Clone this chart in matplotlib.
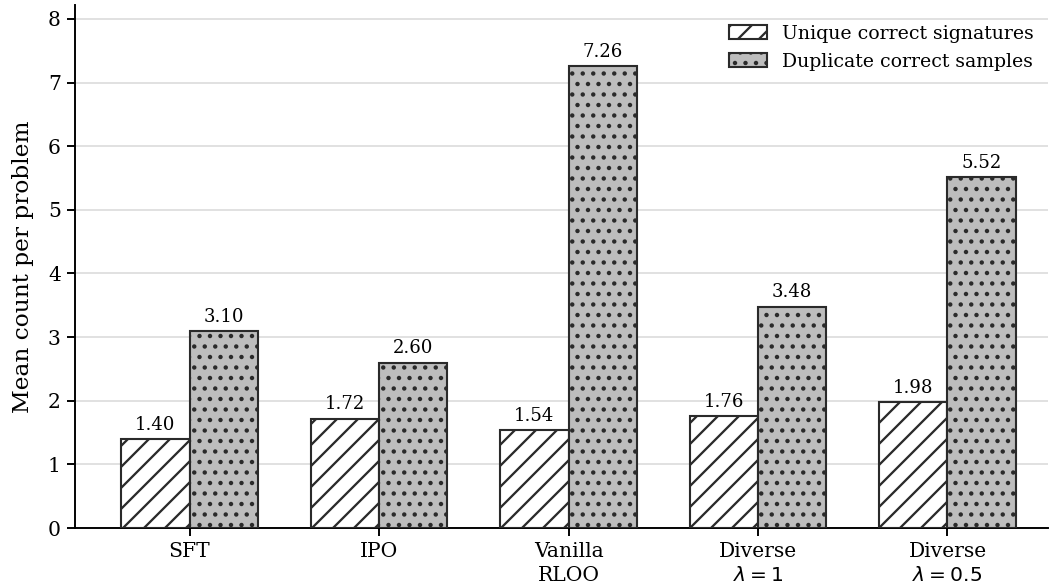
import matplotlib
matplotlib.use('Agg')
import matplotlib.pyplot as plt
import numpy as np

methods = ['SFT', 'IPO', 'Vanilla\nRLOO', 'Diverse\n$\\lambda=1$', 'Diverse\n$\\lambda=0.5$']
unique_sig = [1.40, 1.72, 1.54, 1.76, 1.98]
dup_samples = [3.10, 2.60, 7.26, 3.48, 5.52]

DPI = 126
plt.rcParams['font.family'] = 'DejaVu Serif'
plt.rcParams['hatch.linewidth'] = 1.3
plt.rcParams['hatch.color'] = '#222222'

fig = plt.figure(figsize=(1050 / DPI, 587 / DPI), dpi=DPI)
ax = fig.add_axes([0.0714, 0.1005, 0.9266, 0.891])

x = np.arange(len(methods))
w = 0.36
b1 = ax.bar(x - w/2, unique_sig, w, color='white', edgecolor='#2a2a2a',
            linewidth=1.2, hatch='//', label='Unique correct signatures', zorder=3)
b2 = ax.bar(x + w/2, dup_samples, w, color='#bdbdbd', edgecolor='#2a2a2a',
            linewidth=1.2, hatch='..', label='Duplicate correct samples', zorder=3)

for bars, vals in [(b1, unique_sig), (b2, dup_samples)]:
    for r, v in zip(bars, vals):
        ax.text(r.get_x() + r.get_width()/2, v + 0.08, f'{v:.2f}',
                ha='center', va='bottom', fontsize=10.4)

ax.set_xticks(x)
ax.set_xticklabels(methods, fontsize=11.6, linespacing=1.3)
ax.set_xlim(-0.605, 4.53)
ax.set_ylim(0, 8.22)
ax.set_yticks(range(9))
ax.tick_params(axis='y', labelsize=11.6, width=1.1, length=4.6)
ax.tick_params(axis='x', width=1.1, length=4.6)
ax.set_ylabel('Mean count per problem', fontsize=13.3, labelpad=8)
ax.yaxis.grid(True, color='#dddddd', linewidth=1.0, zorder=0)
ax.set_axisbelow(True)
for s in ['top', 'right']:
    ax.spines[s].set_visible(False)
for s in ['left', 'bottom']:
    ax.spines[s].set_linewidth(1.1)

ax.legend(loc='upper right', frameon=False, fontsize=10.8, handlelength=2.0,
          handleheight=0.75, bbox_to_anchor=(1.003, 0.995), labelspacing=0.55)

fig.savefig('out.png', dpi=DPI)
